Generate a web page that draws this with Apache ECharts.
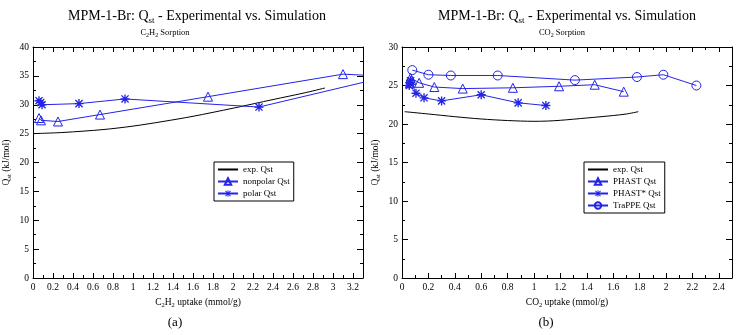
<!DOCTYPE html>
<html>
<head>
<meta charset="utf-8">
<script src="https://cdn.jsdelivr.net/npm/echarts@6/dist/echarts.min.js"></script>
<style>
  html, body { margin: 0; padding: 0; background: #fff; }
  #chart { width: 741px; height: 335px; }
</style>
</head>
<body>
<div id="chart"></div>
<script>
// (a) C2H2 sorption
const c2h2ExpUptake = [0.0, 0.3, 0.7, 1.0, 1.3, 1.6, 2.0, 2.4, 2.7, 2.92];
const c2h2ExpQst = [25.0, 25.2, 25.7, 26.3, 27.1, 28.0, 29.4, 30.9, 32.0, 32.9];
const nonpolarUptake = [0.06, 0.08, 0.25, 0.67, 1.75, 3.10, 3.45];
const nonpolarQst = [27.7, 27.3, 27.1, 28.3, 31.4, 35.3, 35.0];
const polarUptake = [0.06, 0.077, 0.09, 0.46, 0.92, 2.26, 3.6];
const polarQst = [30.7, 30.4, 30.0, 30.2, 31.0, 29.6, 35.1];

// (b) CO2 sorption
const co2ExpUptake = [0.02, 0.2, 0.4, 0.6, 0.8, 1.0, 1.1, 1.2, 1.4, 1.6, 1.7, 1.79];
const co2ExpQst = [21.6, 21.3, 20.95, 20.65, 20.45, 20.35, 20.38, 20.48, 20.78, 21.1, 21.3, 21.6];
const phastUptake = [0.06, 0.07, 0.065, 0.13, 0.245, 0.46, 0.84, 1.19, 1.46, 1.68];
const phastQst = [25.3, 25.7, 26.0, 25.35, 24.8, 24.6, 24.7, 24.9, 25.1, 24.2];
const phastStarUptake = [0.055, 0.06, 0.065, 0.106, 0.167, 0.30, 0.60, 0.88, 1.09];
const phastStarQst = [25.0, 25.3, 25.6, 24.0, 23.4, 23.0, 23.8, 22.75, 22.4];
const trappeUptake = [0.078, 0.20, 0.37, 0.725, 1.31, 1.78, 1.98, 2.23];
const trappeQst = [27.0, 26.4, 26.3, 26.3, 25.7, 26.1, 26.4, 25.0];

const legendA = ['exp. Qst', 'nonpolar Qst', 'polar Qst'];
const legendB = ['exp. Qst', 'PHAST Qst', 'PHAST* Qst', 'TraPPE Qst'];

const SERIF = '"Liberation Serif", "DejaVu Serif", serif';
const BLUE = '#2424e6';
const STAR = 'path://M8.5 0L11.5 0L11.5 20L8.5 20Z M0 8.5L20 8.5L20 11.5L0 11.5Z M1 3.1L3.1 1L19 16.9L16.9 19Z M16.9 1L19 3.1L3.1 19L1 16.9Z';

const zip = (xs, ys) => xs.map((x, i) => [x, ys[i]]);

const sub = {
  a: { fontFamily: SERIF, fontSize: 9.5, color: '#000' },
  b: { fontFamily: SERIF, fontSize: 6.5, color: '#000', padding: [7, 0, 0, 0] }
};

function legendData(names) {
  return names.map(n => n === 'exp. Qst' ? { name: n, itemStyle: { opacity: 0 } } : n);
}

function xAxes(gridIndex, max, nameRich) {
  const base = {
    type: 'value', gridIndex: gridIndex, min: 0, max: max, interval: 0.2,
    axisLine: { show: true, onZero: false, lineStyle: { color: '#000', width: 1 } },
    axisTick: { show: true, inside: true, length: 5, lineStyle: { color: '#000' } },
    minorTick: { show: true, splitNumber: 2, length: 3, lineStyle: { color: '#000' } },
    splitLine: { show: false }
  };
  return [
    Object.assign({}, base, {
      position: 'bottom',
      axisLabel: { fontFamily: SERIF, fontSize: 9.5, color: '#000', margin: 4, showMaxLabel: false },
      name: nameRich, nameLocation: 'middle', nameGap: 17,
      nameTextStyle: { rich: sub }
    }),
    Object.assign({}, base, { position: 'top', axisLabel: { show: false } })
  ];
}

function yAxes(gridIndex, max) {
  const base = {
    type: 'value', gridIndex: gridIndex, min: 0, max: max, interval: 5,
    axisLine: { show: true, onZero: false, lineStyle: { color: '#000', width: 1 } },
    axisTick: { show: true, inside: true, length: 6, lineStyle: { color: '#000' } },
    minorTick: { show: true, splitNumber: 2, length: 3, lineStyle: { color: '#000' } },
    splitLine: { show: false }
  };
  return [
    Object.assign({}, base, {
      position: 'left',
      axisLabel: { fontFamily: SERIF, fontSize: 9.5, color: '#000', margin: 4 },
      name: '{a|Q}{b|st}{a| (kJ/mol)}', nameLocation: 'middle', nameGap: 20,
      nameTextStyle: { rich: sub }
    }),
    Object.assign({}, base, { position: 'right', axisLabel: { show: false } })
  ];
}

function expSeries(x, y, xi, yi) {
  return {
    name: 'exp. Qst', type: 'line', xAxisIndex: xi, yAxisIndex: yi,
    data: zip(x, y), symbol: 'none', smooth: 0.3,
    lineStyle: { color: '#000', width: 1 }, itemStyle: { color: '#000' }
  };
}

function simSeries(name, x, y, xi, yi, symbol, size, filled) {
  return {
    name: name, type: 'line', xAxisIndex: xi, yAxisIndex: yi,
    data: zip(x, y), symbol: symbol, symbolSize: size, showAllSymbol: true, clip: true,
    lineStyle: { color: BLUE, width: 1 },
    itemStyle: filled
      ? { color: BLUE, borderWidth: 0 }
      : { color: 'rgba(255,255,255,0)', borderColor: BLUE, borderWidth: 1 }
  };
}

function titleText(x, y) {
  return {
    type: 'text', x: x, y: y,
    style: {
      text: '{a|MPM-1-Br: Q}{b|st}{a| - Experimental vs. Simulation}',
      align: 'center', verticalAlign: 'middle',
      rich: {
        a: { fontFamily: SERIF, fontSize: 14, fill: '#000' },
        b: { fontFamily: SERIF, fontSize: 9, fill: '#000', padding: [10, 0, 0, 0] }
      }
    }
  };
}

function subtitleText(x, y, text) {
  return {
    type: 'text', x: x, y: y,
    style: {
      text: text, align: 'center', verticalAlign: 'middle',
      rich: {
        a: { fontFamily: SERIF, fontSize: 8.5, fill: '#000' },
        b: { fontFamily: SERIF, fontSize: 6, fill: '#000', padding: [5, 0, 0, 0] }
      }
    }
  };
}

const chart = echarts.init(document.getElementById('chart'));
chart.setOption({
  animation: false,
  backgroundColor: '#fff',
  grid: [
    { left: 33, top: 47, width: 330, height: 231 },
    { left: 402, top: 47, width: 330, height: 231 }
  ],
  xAxis: xAxes(0, 3.3, '{a|C}{b|2}{a|H}{b|2}{a| uptake (mmol/g)}')
    .concat(xAxes(1, 2.5, '{a|CO}{b|2}{a| uptake (mmol/g)}')),
  yAxis: yAxes(0, 40).concat(yAxes(1, 30)),
  legend: [
    {
      data: legendData(legendA), left: 214, top: 162, orient: 'vertical',
      borderColor: '#000', borderWidth: 1, borderRadius: 0, padding: [3, 4, 3, 3],
      itemGap: 3, itemWidth: 20, itemHeight: 8, selectedMode: false,
      textStyle: { fontFamily: SERIF, fontSize: 9, color: '#000' }
    },
    {
      data: legendData(legendB), left: 584, top: 162, orient: 'vertical',
      borderColor: '#000', borderWidth: 1, borderRadius: 0, padding: [3, 4, 3, 3],
      itemGap: 3, itemWidth: 20, itemHeight: 8, selectedMode: false,
      textStyle: { fontFamily: SERIF, fontSize: 9, color: '#000' }
    }
  ],
  graphic: [
    titleText(197, 16),
    titleText(567, 16),
    subtitleText(165, 33, '{a|C}{b|2}{a|H}{b|2}{a| Sorption}'),
    subtitleText(562, 33, '{a|CO}{b|2}{a| Sorption}'),
    {
      type: 'text', x: 175, y: 323,
      style: { text: '(a)', align: 'center', verticalAlign: 'middle', font: '13px ' + SERIF, fill: '#000' }
    },
    {
      type: 'text', x: 546, y: 323,
      style: { text: '(b)', align: 'center', verticalAlign: 'middle', font: '13px ' + SERIF, fill: '#000' }
    }
  ],
  series: [
    expSeries(c2h2ExpUptake, c2h2ExpQst, 0, 0),
    simSeries('nonpolar Qst', nonpolarUptake, nonpolarQst, 0, 0, 'triangle', 9, false),
    simSeries('polar Qst', polarUptake, polarQst, 0, 0, STAR, 9, true),
    expSeries(co2ExpUptake, co2ExpQst, 2, 2),
    simSeries('PHAST Qst', phastUptake, phastQst, 2, 2, 'triangle', 9, false),
    simSeries('PHAST* Qst', phastStarUptake, phastStarQst, 2, 2, STAR, 9, true),
    simSeries('TraPPE Qst', trappeUptake, trappeQst, 2, 2, 'circle', 9, false)
  ]
});
</script>
</body>
</html>
